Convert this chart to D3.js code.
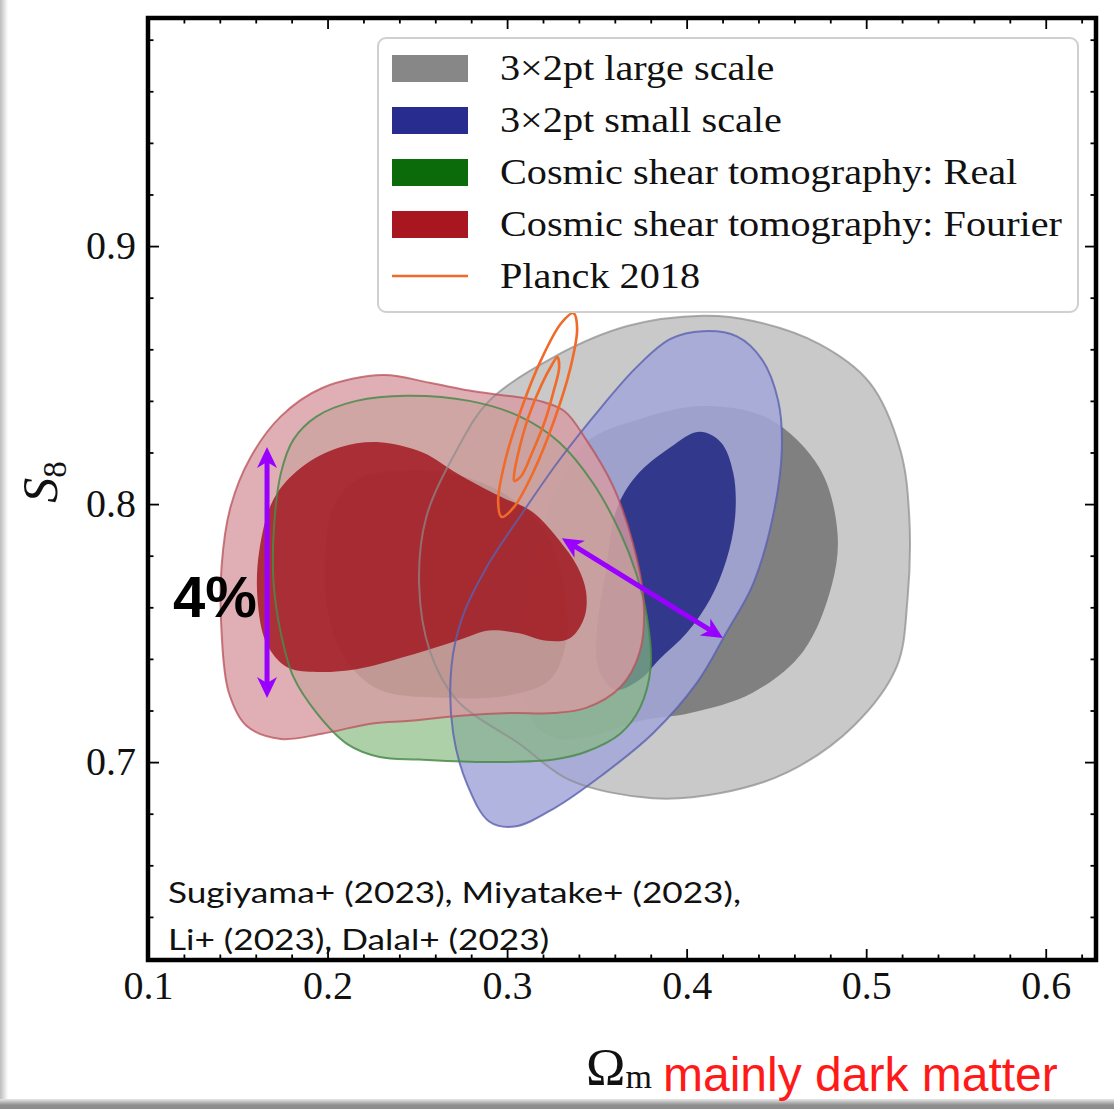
<!DOCTYPE html>
<html>
<head>
<meta charset="utf-8">
<script src="https://cdn.jsdelivr.net/npm/d3@7"></script>
<style>
  body { margin: 0; background: #fff; }
</style>
</head>
<body>
<div id="chart-container"></div>
<script>
// Contours, as [Omega_m, S8] pairs
var grayOuter = [[0.367,0.869],[0.409,0.873],[0.437,0.871],[0.474,0.862],[0.502,0.847],[0.519,0.821],[0.524,0.795],[0.523,0.763],[0.517,0.737],[0.493,0.714],[0.456,0.696],[0.419,0.688],[0.381,0.686],[0.335,0.693],[0.307,0.707],[0.272,0.724],[0.257,0.743],[0.251,0.769],[0.255,0.795],[0.272,0.821],[0.290,0.840],[0.326,0.857]];
var grayInner = [[0.344,0.824],[0.374,0.833],[0.409,0.838],[0.446,0.833],[0.474,0.814],[0.484,0.789],[0.481,0.769],[0.465,0.743],[0.437,0.727],[0.402,0.719],[0.374,0.716],[0.352,0.711],[0.329,0.709],[0.316,0.714],[0.308,0.728],[0.307,0.747],[0.313,0.774],[0.327,0.805]];
var blueOuter = [[0.409,0.867],[0.428,0.865],[0.442,0.856],[0.451,0.840],[0.453,0.821],[0.448,0.795],[0.437,0.769],[0.422,0.750],[0.406,0.731],[0.381,0.711],[0.353,0.695],[0.326,0.682],[0.304,0.675],[0.290,0.677],[0.278,0.691],[0.270,0.711],[0.269,0.737],[0.275,0.756],[0.289,0.776],[0.307,0.795],[0.329,0.817],[0.353,0.838],[0.372,0.853],[0.391,0.864]];
var blueInner = [[0.407,0.828],[0.419,0.824],[0.426,0.812],[0.427,0.795],[0.422,0.778],[0.413,0.763],[0.400,0.750],[0.385,0.740],[0.374,0.732],[0.360,0.728],[0.351,0.736],[0.350,0.751],[0.355,0.774],[0.361,0.798],[0.372,0.811],[0.391,0.822]];
var greenOuter = [[0.244,0.842],[0.216,0.840],[0.194,0.834],[0.181,0.825],[0.174,0.812],[0.170,0.789],[0.170,0.769],[0.174,0.750],[0.181,0.733],[0.194,0.719],[0.211,0.707],[0.229,0.702],[0.251,0.701],[0.289,0.700],[0.326,0.701],[0.344,0.704],[0.363,0.711],[0.374,0.721],[0.380,0.737],[0.378,0.756],[0.372,0.773],[0.363,0.789],[0.348,0.808],[0.329,0.824],[0.307,0.834],[0.279,0.840]];
var greenInner = [[0.244,0.813],[0.218,0.810],[0.204,0.800],[0.199,0.782],[0.200,0.759],[0.210,0.740],[0.229,0.728],[0.263,0.725],[0.302,0.726],[0.324,0.732],[0.333,0.747],[0.332,0.767],[0.321,0.790],[0.296,0.805],[0.268,0.812]];
var redOuter = [[0.231,0.850],[0.257,0.847],[0.279,0.844],[0.300,0.842],[0.318,0.840],[0.332,0.836],[0.344,0.825],[0.359,0.807],[0.370,0.785],[0.376,0.763],[0.374,0.743],[0.363,0.729],[0.344,0.721],[0.326,0.719],[0.302,0.719],[0.274,0.718],[0.246,0.716],[0.225,0.715],[0.197,0.711],[0.174,0.709],[0.155,0.714],[0.145,0.727],[0.141,0.750],[0.141,0.776],[0.146,0.799],[0.157,0.818],[0.174,0.834],[0.197,0.845]];
var redInner = [[0.229,0.824],[0.253,0.820],[0.272,0.812],[0.296,0.803],[0.314,0.797],[0.329,0.786],[0.339,0.776],[0.344,0.766],[0.343,0.756],[0.335,0.748],[0.322,0.747],[0.306,0.750],[0.290,0.751],[0.272,0.747],[0.244,0.741],[0.216,0.736],[0.192,0.735],[0.177,0.737],[0.166,0.746],[0.161,0.763],[0.162,0.782],[0.170,0.802],[0.185,0.814],[0.207,0.822]];
var planckOuter = [[0.337,0.874],[0.339,0.868],[0.335,0.852],[0.326,0.832],[0.315,0.813],[0.304,0.799],[0.297,0.795],[0.295,0.801],[0.299,0.817],[0.308,0.837],[0.319,0.856],[0.330,0.870]];
var planckInner = [[0.328,0.857],[0.329,0.853],[0.326,0.844],[0.321,0.832],[0.314,0.820],[0.308,0.811],[0.304,0.809],[0.304,0.812],[0.307,0.822],[0.312,0.834],[0.319,0.846],[0.325,0.854]];

// Annotation arrows (two-headed), in data units
var arrowVert = [[0.1663,0.8221],[0.1663,0.7248]];
var arrowDiag = [[0.3305,0.7868],[0.4202,0.7481]];

// Axis ticks
var xTicks = [0.1,0.2,0.3,0.4,0.5,0.6];
var xMinor = [0.12,0.14,0.16,0.18,0.22,0.24,0.26,0.28,0.32,0.34,0.36,0.38,0.42,0.44,0.46,0.48,0.52,0.54,0.56,0.58,0.62];
var yTicks = [0.7,0.8,0.9];
var yMinor = [0.64,0.66,0.68,0.72,0.74,0.76,0.78,0.82,0.84,0.86,0.88,0.92,0.94,0.96,0.98];

// Legend
var legendLabels = ["3\u00d72pt large scale","3\u00d72pt small scale","Cosmic shear tomography: Real","Cosmic shear tomography: Fourier","Planck 2018"];
var legendColors = ["#878787","#272c8e","#0b6b0b","#a8171f","#f06a28"];

var margin = { top: 18, right: 18, bottom: 149, left: 148 },
    width = 1114 - margin.left - margin.right,
    height = 1109 - margin.top - margin.bottom;

var svg = d3.select("#chart-container").append("svg")
    .attr("width", 1114)
    .attr("height", 1109);

var defs = svg.append("defs");
var lg = defs.append("linearGradient").attr("id", "leftShade");
lg.append("stop").attr("offset", "0%").attr("stop-color", "#bdbdbd");
lg.append("stop").attr("offset", "100%").attr("stop-color", "#ffffff");
var bg = defs.append("linearGradient").attr("id", "botShade").attr("x1", 0).attr("y1", 0).attr("x2", 0).attr("y2", 1);
bg.append("stop").attr("offset", "0%").attr("stop-color", "#e8e8e8");
bg.append("stop").attr("offset", "60%").attr("stop-color", "#8f8f8f");
bg.append("stop").attr("offset", "100%").attr("stop-color", "#8a8a8a");

svg.append("rect").attr("width", 1114).attr("height", 1109).attr("fill", "#fff");
svg.append("rect").attr("x", 0).attr("y", 0).attr("width", 8).attr("height", 1109).attr("fill", "url(#leftShade)");
svg.append("rect").attr("x", 0).attr("y", 1099).attr("width", 1114).attr("height", 10).attr("fill", "url(#botShade)");

defs.append("clipPath").attr("id", "plotClip")
  .append("rect").attr("width", width).attr("height", height);

var g = svg.append("g")
    .attr("transform", "translate(" + margin.left + "," + margin.top + ")");

var x = d3.scaleLinear().domain([0.1, 0.628]).range([0, width]);
var y = d3.scaleLinear().domain([0.6233, 0.9884]).range([height, 0]);

var shape = d3.line()
    .x(function (d) { return x(d[0]); })
    .y(function (d) { return y(d[1]); })
    .curve(d3.curveCatmullRomClosed.alpha(0.5));

var plot = g.append("g").attr("clip-path", "url(#plotClip)");

// filled regions, drawn back to front
var fills = [
  [grayOuter, "#c9c9c9", 1],
  [grayInner, "#808080", 1],
  [blueOuter, "#a3a7d8", 0.85],
  [blueInner, "#2e3589", 0.97],
  [greenOuter, "#86ba80", 0.68],
  [greenInner, "#3d6e3d", 0.7],
  [redOuter, "#d89ba2", 0.8],
  [redInner, "#a0141c", 0.82]
];
fills.forEach(function (f) {
  plot.append("path").attr("d", shape(f[0]))
    .attr("fill", f[1]).attr("fill-opacity", f[2]).attr("stroke", "none");
});

// outlines of the outer regions on top
var outlines = [
  [grayOuter, "#8c8c8c", 0.7],
  [blueOuter, "#5a60b0", 0.8],
  [greenOuter, "#4a8a4a", 0.85],
  [redOuter, "#b85058", 0.75]
];
outlines.forEach(function (o) {
  plot.append("path").attr("d", shape(o[0]))
    .attr("fill", "none").attr("stroke", o[1]).attr("stroke-opacity", o[2]).attr("stroke-width", 2);
});

[planckOuter, planckInner].forEach(function (p) {
  plot.append("path").attr("d", shape(p))
    .attr("fill", "none").attr("stroke", "#f06a28").attr("stroke-width", 2.6);
});

// axes, ticks pointing inward on all four sides
function styleAxis(sel) {
  sel.select(".domain").remove();
  sel.selectAll("line").attr("stroke", "#000").attr("stroke-width", 1.8);
  sel.attr("font-family", "'Liberation Serif', 'DejaVu Serif', serif").attr("font-size", 40);
  sel.selectAll("text").attr("fill", "#111");
}
var fmt = d3.format(".1f");
g.append("g").attr("transform", "translate(0," + height + ")")
  .call(d3.axisBottom(x).tickValues(xTicks).tickSize(-11).tickPadding(11).tickFormat(fmt)).call(styleAxis);
g.append("g").attr("transform", "translate(0," + height + ")")
  .call(d3.axisBottom(x).tickValues(xMinor).tickSize(-5.5).tickFormat("")).call(styleAxis);
g.append("g")
  .call(d3.axisTop(x).tickValues(xTicks).tickSize(-11).tickFormat("")).call(styleAxis);
g.append("g")
  .call(d3.axisTop(x).tickValues(xMinor).tickSize(-5.5).tickFormat("")).call(styleAxis);
g.append("g")
  .call(d3.axisLeft(y).tickValues(yTicks).tickSize(-11).tickPadding(12).tickFormat(fmt)).call(styleAxis);
g.append("g")
  .call(d3.axisLeft(y).tickValues(yMinor).tickSize(-5.5).tickFormat("")).call(styleAxis);
g.append("g").attr("transform", "translate(" + width + ",0)")
  .call(d3.axisRight(y).tickValues(yTicks).tickSize(-11).tickFormat("")).call(styleAxis);
g.append("g").attr("transform", "translate(" + width + ",0)")
  .call(d3.axisRight(y).tickValues(yMinor).tickSize(-5.5).tickFormat("")).call(styleAxis);

g.append("rect").attr("width", width).attr("height", height)
  .attr("fill", "none").attr("stroke", "#000").attr("stroke-width", 4.5);

// legend
var legend = svg.append("g");
legend.append("rect").attr("x", 378).attr("y", 38).attr("width", 700).attr("height", 274)
  .attr("rx", 8).attr("fill", "#fff").attr("fill-opacity", 0.85)
  .attr("stroke", "#d0d0d0").attr("stroke-width", 2);
var legTexts = [];
legendLabels.forEach(function (lab, i) {
  var cy = 68 + i * 52;
  if (i < 4) {
    legend.append("rect").attr("x", 392).attr("y", cy - 13).attr("width", 76).attr("height", 27)
      .attr("fill", legendColors[i]);
  } else {
    legend.append("line").attr("x1", 392).attr("x2", 468).attr("y1", cy).attr("y2", cy)
      .attr("stroke", legendColors[i]).attr("stroke-width", 2.6);
  }
  legTexts.push(legend.append("text").attr("x", 500).attr("y", cy + 12)
    .attr("font-family", "'Liberation Serif', serif").attr("font-size", 35)
    .attr("fill", "#111").text(lab));
});
// stretch legend labels to the width of the reference's serif face
var longest = d3.max(legTexts, function (t) { return t.node().getComputedTextLength(); });
var stretch = 562 / longest;
legTexts.forEach(function (t) {
  t.attr("textLength", t.node().getComputedTextLength() * stretch).attr("lengthAdjust", "spacingAndGlyphs");
});

// axis titles
svg.append("text")
  .attr("transform", "translate(57,482) rotate(-90)")
  .attr("text-anchor", "middle")
  .attr("font-family", "'Liberation Serif', serif").attr("font-size", 50).attr("fill", "#111")
  .call(function (t) {
    t.append("tspan").attr("font-style", "italic").text("S");
    t.append("tspan").attr("font-size", 33).attr("dy", 9).text("8");
  });
svg.append("text")
  .attr("x", 586).attr("y", 1085)
  .attr("font-family", "'Liberation Serif', serif").attr("font-size", 53).attr("fill", "#111")
  .call(function (t) {
    t.append("tspan").text("\u03a9");
    t.append("tspan").attr("font-size", 34).attr("dy", 3).text("m");
  });
svg.append("text")
  .attr("x", 663).attr("y", 1091)
  .attr("font-family", "'Liberation Sans', sans-serif").attr("font-size", 48).attr("fill", "#ff1a1a")
  .text("mainly dark matter");

// annotations
function arrow(pts) {
  var p1 = [x(pts[0][0]) + margin.left, y(pts[0][1]) + margin.top],
      p2 = [x(pts[1][0]) + margin.left, y(pts[1][1]) + margin.top];
  var dx = p2[0] - p1[0], dy = p2[1] - p1[1], L = Math.sqrt(dx * dx + dy * dy);
  var ux = dx / L, uy = dy / L, ang = Math.atan2(dy, dx) * 180 / Math.PI;
  svg.append("line")
    .attr("x1", p1[0] + ux * 14).attr("y1", p1[1] + uy * 14)
    .attr("x2", p2[0] - ux * 14).attr("y2", p2[1] - uy * 14)
    .attr("stroke", "#9a00ff").attr("stroke-width", 5);
  [[p2, ang], [p1, ang + 180]].forEach(function (h) {
    svg.append("path").attr("d", "M0,0 L-21,-10 L-15,0 L-21,10 Z")
      .attr("transform", "translate(" + h[0][0] + "," + h[0][1] + ") rotate(" + h[1] + ")")
      .attr("fill", "#9a00ff");
  });
}
arrow(arrowVert);
arrow(arrowDiag);

svg.append("text")
  .attr("x", x(0.1139) + margin.left).attr("y", y(0.7562) + margin.top)
  .attr("font-family", "'Liberation Sans', sans-serif").attr("font-weight", "bold")
  .attr("font-size", 58).attr("fill", "#000").text("4%");

var cite1 = svg.append("text")
  .attr("x", x(0.1111) + margin.left).attr("y", y(0.6453) + margin.top)
  .attr("font-family", "Lato, sans-serif").attr("font-size", 29).attr("fill", "#111")
  .text("Sugiyama+ (2023), Miyatake+ (2023),");
var cite2 = svg.append("text")
  .attr("x", x(0.1111) + margin.left).attr("y", y(0.6271) + margin.top)
  .attr("font-family", "Lato, sans-serif").attr("font-size", 29).attr("fill", "#111")
  .text("Li+ (2023), Dalal+ (2023)");
var cStretch = 573 / cite1.node().getComputedTextLength();
[cite1, cite2].forEach(function (t) {
  t.attr("textLength", t.node().getComputedTextLength() * cStretch).attr("lengthAdjust", "spacingAndGlyphs");
});
</script>
</body>
</html>
